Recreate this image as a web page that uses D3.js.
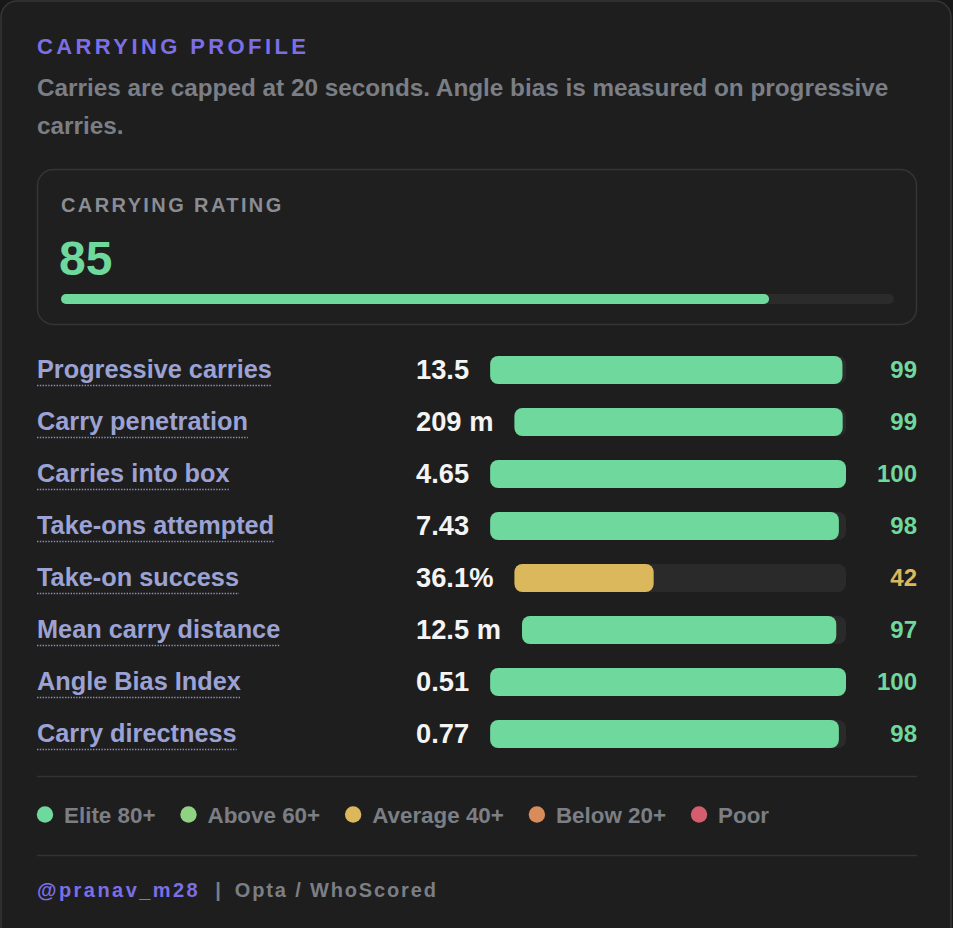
<!DOCTYPE html>
<html lang="en">
<head>
  <meta charset="UTF-8" />
  <title>Carrying Profile</title>
  <style>
    body { margin: 0; background: #181818; }
    svg { display: block; font-family: "Liberation Sans", Arial, sans-serif; }
    .label { font-size: 25.3px; font-weight: bold; fill: #9ca3d4; }
    .value { font-size: 27.3px; font-weight: bold; fill: #f4f4f4; }
    .pct { font-size: 24px; font-weight: bold; }
    .legend text { font-size: 22.4px; font-weight: bold; fill: #7b7e85; }
  </style>
  <script src="https://d3js.org/d3.v7.min.js"></script>
</head>
<body>
  <div id="chart"></div>
  <script>
    const title = "CARRYING PROFILE";
    const subtitle = "Carries are capped at 20 seconds. Angle bias is measured on progressive carries.";
    const rating = 85;

    const metrics = ["Progressive carries", "Carry penetration", "Carries into box", "Take-ons attempted",
      "Take-on success", "Mean carry distance", "Angle Bias Index", "Carry directness"];
    const values = ["13.5", "209 m", "4.65", "7.43", "36.1%", "12.5 m", "0.51", "0.77"];
    const percentiles = [99, 99, 100, 98, 42, 97, 100, 98];

    const tierNames = ["Elite 80+", "Above 60+", "Average 40+", "Below 20+", "Poor"];
    const tierColors = ["#6fd89c", "#8fd283", "#dbb85c", "#d98b5a", "#d45d6e"];

    const W = 953, H = 928;
    const left = 37, right = 917;

    const svg = d3.select("#chart").append("svg")
      .attr("width", W)
      .attr("height", H);

    // card
    svg.append("rect")
      .attr("x", 1).attr("y", 1)
      .attr("width", W - 3).attr("height", H + 20)
      .attr("rx", 16)
      .attr("fill", "#1e1e1e")
      .attr("stroke", "#363636")
      .attr("stroke-width", 1.5);

    const tier = d3.scaleThreshold()
      .domain([20, 40, 60, 80])
      .range(tierColors.slice().reverse());

    // header
    svg.append("text")
      .attr("x", left).attr("y", 54)
      .attr("fill", "#7c6fe6")
      .style("font-size", "22px").style("font-weight", "bold").style("letter-spacing", "3.4px")
      .text(title);

    const sub = svg.append("text")
      .attr("x", left).attr("y", 96)
      .attr("fill", "#7b7e85")
      .style("font-size", "24.3px").style("font-weight", "bold");
    {
      const words = subtitle.split(" ");
      let line = [], tspan = sub.append("tspan").attr("x", left).attr("dy", 0);
      words.forEach(w => {
        line.push(w);
        tspan.text(line.join(" "));
        if (tspan.node().getComputedTextLength() > right - left && line.length > 1) {
          line.pop();
          tspan.text(line.join(" "));
          line = [w];
          tspan = sub.append("tspan").attr("x", left).attr("dy", 38).text(w);
        }
      });
    }

    // rating box
    const box = svg.append("g");
    box.append("rect")
      .attr("x", left + 0.5).attr("y", 169.5)
      .attr("width", right - left - 1).attr("height", 155)
      .attr("rx", 16)
      .attr("fill", "#1f1f1f")
      .attr("stroke", "#353535")
      .attr("stroke-width", 1.5);
    box.append("text")
      .attr("x", 61).attr("y", 212)
      .attr("fill", "#8a8d93")
      .style("font-size", "20px").style("font-weight", "bold").style("letter-spacing", "2.4px")
      .text("CARRYING RATING");
    box.append("text")
      .attr("x", 59).attr("y", 275)
      .attr("fill", tier(rating))
      .style("font-size", "48px").style("font-weight", "bold")
      .text(rating);
    const rx = d3.scaleLinear().domain([0, 100]).range([61, 894]);
    box.append("rect")
      .attr("x", rx(0)).attr("y", 294)
      .attr("width", rx(100) - rx(0)).attr("height", 10)
      .attr("rx", 5).attr("fill", "#2b2b2b");
    box.append("rect")
      .attr("x", rx(0)).attr("y", 294)
      .attr("width", rx(rating) - rx(0)).attr("height", 10)
      .attr("rx", 5).attr("fill", tier(rating));

    // metric rows
    const y = d3.scaleBand().domain(metrics).range([344, 760]);
    const valueX = 416, trackEnd = 846, barH = 28;

    const row = svg.selectAll(".row")
      .data(metrics.map((m, i) => ({ name: m, value: values[i], pct: percentiles[i] })))
      .enter().append("g")
      .attr("class", "row")
      .attr("transform", d => `translate(0,${y(d.name) + y.bandwidth() / 2})`);

    row.each(function (d) {
      const g = d3.select(this);
      const lab = g.append("text")
        .attr("class", "label")
        .attr("x", left).attr("y", 8)
        .text(d.name);
      const lw = lab.node().getComputedTextLength();
      g.append("line")
        .attr("x1", left).attr("x2", left + lw)
        .attr("y1", 15.5).attr("y2", 15.5)
        .attr("stroke", "#8a90b8")
        .attr("stroke-width", 1.3)
        .attr("stroke-dasharray", "1.4,1.4");

      const val = g.append("text")
        .attr("class", "value")
        .attr("x", valueX).attr("y", 8.5)
        .text(d.value);
      const barStart = valueX + val.node().getComputedTextLength() + 21;
      const x = d3.scaleLinear().domain([0, 100]).range([barStart, trackEnd]);

      g.append("rect")
        .attr("x", x(0)).attr("y", -barH / 2)
        .attr("width", x(100) - x(0)).attr("height", barH)
        .attr("rx", 8).attr("fill", "#2a2a2a");
      g.append("rect")
        .attr("x", x(0)).attr("y", -barH / 2)
        .attr("width", x(d.pct) - x(0)).attr("height", barH)
        .attr("rx", 8).attr("fill", tier(d.pct));

      g.append("text")
        .attr("class", "pct")
        .attr("x", right).attr("y", 8)
        .attr("text-anchor", "end")
        .attr("fill", tier(d.pct))
        .text(d.pct);
    });

    // separators
    [776.5, 855.5].forEach(sy => {
      svg.append("line")
        .attr("x1", left).attr("x2", right)
        .attr("y1", sy).attr("y2", sy)
        .attr("stroke", "#333")
        .attr("stroke-width", 1.5);
    });

    // legend
    const legend = svg.append("g").attr("class", "legend");
    let lx = left;
    tierNames.forEach((name, i) => {
      legend.append("circle")
        .attr("cx", lx + 8).attr("cy", 814.5).attr("r", 8.2)
        .attr("fill", tierColors[i]);
      const t = legend.append("text")
        .attr("x", lx + 27).attr("y", 822.5)
        .text(name);
      lx += 27 + t.node().getComputedTextLength() + 25;
    });

    // footer
    const foot = svg.append("text")
      .attr("x", left).attr("y", 897)
      .style("font-size", "20px").style("font-weight", "bold");
    foot.append("tspan").attr("fill", "#7c6fe6").style("letter-spacing", "2.45px").text("@pranav_m28");
    foot.append("tspan").attr("fill", "#7b7e85").attr("dx", 15).text("|");
    foot.append("tspan").attr("fill", "#7b7e85").attr("dx", 14).style("letter-spacing", "1.85px").text("Opta / WhoScored");
  </script>
</body>
</html>
